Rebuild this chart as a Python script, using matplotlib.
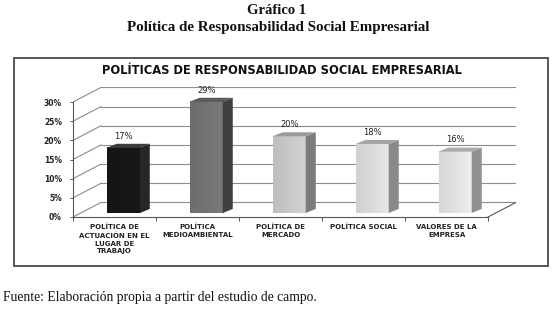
import matplotlib
matplotlib.use("Agg")
import matplotlib.pyplot as plt
from matplotlib.patches import Polygon, Rectangle
from matplotlib.colors import to_rgb
import numpy as np

# ---- data ----
categories = ["POLÍTICA DE\nACTUACIÓN EN EL\nLUGAR DE\nTRABAJO",
              "POLÍTICA\nMEDIOAMBIENTAL",
              "POLÍTICA DE\nMERCADO",
              "POLÍTICA SOCIAL",
              "VALORES DE LA\nEMPRESA"]
values = [17, 29, 20, 18, 16]
value_labels = ["17%", "29%", "20%", "18%", "16%"]
yticks = [0, 5, 10, 15, 20, 25, 30]
ytick_labels = ["0%", "5%", "10%", "15%", "20%", "25%", "30%"]

# ---- styles ----
front_colors = ["#161616", "#747474", "#c9c9c9", "#dcdcdc", "#e3e3e3"]
side_colors = ["#262626", "#404040", "#7c7c7c", "#8a8a8a", "#909090"]
top_colors = ["#3c3c3c", "#5a5a5a", "#9a9a9a", "#a5a5a5", "#ababab"]
grid_color = "#8c8c8c"

W, H = 553, 311
fig = plt.figure(figsize=(W / 100, H / 100), dpi=100)

DX, DY = 0.337, 3.8          # wall depth (data units)
FX, FY = 0.105, 1.05         # bar front offset into depth
BDX, BDY = 0.12, 1.05        # bar depth
BW = 0.4                     # bar width
ymax = 30
px_per_cat = 83
px_per_pct = 115 / 30

ax_w = (5 + DX) * px_per_cat
ax_h = (ymax + DY) * px_per_pct
ax = fig.add_axes([73 / W, 94 / H, ax_w / W, ax_h / H])
ax.patch.set_alpha(0)

n = len(values)
x_left, x_right = -0.5, n - 0.5

# walls / gridlines
for t in yticks:
    ax.plot([x_left + DX, x_right + DX], [t + DY, t + DY], color=grid_color, lw=0.8, zorder=1)
    ax.plot([x_left, x_left + DX], [t, t + DY], color=grid_color, lw=0.8, zorder=1)
ax.plot([x_right, x_right + DX], [0, DY], color="#555555", lw=0.8, zorder=1)

# horizontal shading profile for the bar fronts
prof_x = np.linspace(0, 1, 40)
shade = np.interp(prof_x, [0, 0.15, 0.8, 0.92, 1.0], [0.95, 0.96, 1.03, 1.05, 0.97])

# bars
for i, v in enumerate(values):
    x0 = i - BW / 2 + FX
    y0 = FY
    base = np.array(to_rgb(front_colors[i]))
    img = np.clip(shade[None, :, None] * base[None, None, :], 0, 1)
    ax.imshow(img, extent=[x0, x0 + BW, y0, y0 + v], aspect="auto",
              interpolation="bilinear", zorder=3, origin="lower")
    ax.add_patch(Polygon([(x0 + BW, y0), (x0 + BW + BDX, y0 + BDY),
                          (x0 + BW + BDX, y0 + BDY + v), (x0 + BW, y0 + v)],
                         closed=True, facecolor=side_colors[i], edgecolor="none", zorder=3))
    ax.add_patch(Polygon([(x0, y0 + v), (x0 + BW, y0 + v),
                          (x0 + BW + BDX, y0 + v + BDY), (x0 + BDX, y0 + v + BDY)],
                         closed=True, facecolor=top_colors[i], edgecolor="none", zorder=3))
    ax.text(x0 + BW / 2, y0 + v + BDY + 2.0, value_labels[i], ha="center", va="center",
            fontsize=6, color="#222222", zorder=4)

ax.set_xlim(-0.5, 4.5 + DX)
ax.set_ylim(0, ymax + DY)

# axes
for s in ["top", "right"]:
    ax.spines[s].set_visible(False)
ax.spines["left"].set_bounds(0, ymax)
ax.spines["bottom"].set_bounds(x_left, x_right)
for s in ["left", "bottom"]:
    ax.spines[s].set_color("#555555")
    ax.spines[s].set_linewidth(0.8)

ax.set_yticks(yticks)
ax.set_yticklabels(ytick_labels, fontsize=5.5, fontweight="bold", color="#222222")
ax.tick_params(axis="y", length=2, width=0.7, color="#555555", pad=6)

ax.set_xticks(range(n))
ax.set_xticklabels(categories, fontsize=5, fontweight="bold", color="#222222", linespacing=1.35,
                   va="top")
ax.set_xticks([k - 0.5 for k in range(n + 1)], minor=True)
ax.tick_params(axis="x", which="major", length=0, pad=5)
ax.tick_params(axis="x", which="minor", length=3, width=0.7, color="#555555")

# chart title
fig.text(282 / W, 1 - 71 / H, "POLÍTICAS DE RESPONSABILIDAD SOCIAL EMPRESARIAL",
         ha="center", va="center", fontsize=8.3, fontweight="bold", color="#111111")

# frame box
fig.add_artist(Rectangle((14 / W, (H - 266) / H), (548 - 14) / W, (266 - 58) / H,
                         transform=fig.transFigure, fill=False, edgecolor="#4a4a4a", lw=1.3))

# document titles and source
serif = ["Liberation Serif", "DejaVu Serif"]
fig.text(277 / W, 1 - 10 / H, "Gráfico 1", ha="center", va="center", fontsize=10.5,
         fontweight="bold", family=serif, color="#111111")
fig.text(278 / W, 1 - 27 / H, "Política de Responsabilidad Social Empresarial", ha="center",
         va="center", fontsize=10.8, fontweight="bold", family=serif, color="#111111")
fig.text(3 / W, 1 - 297 / H, "Fuente: Elaboración propia a partir del estudio de campo.",
         ha="left", va="center", fontsize=9.8, family=serif, color="#111111")

fig.savefig("out.png", dpi=100)
